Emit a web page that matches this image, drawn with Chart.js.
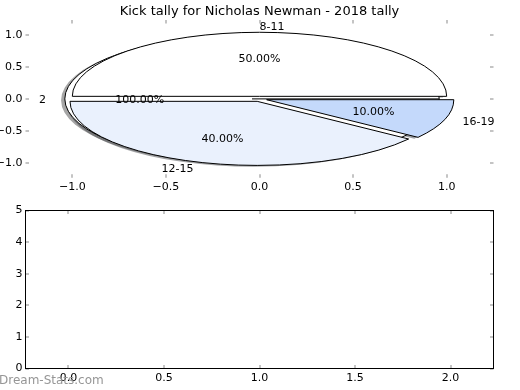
<!DOCTYPE html>
<html>
<head>
<meta charset="utf-8">
<script src="https://cdn.jsdelivr.net/npm/chart.js@4"></script>
<style>
    html, body { margin: 0; padding: 0; background: #fff; }
    #wrap { position: relative; width: 520px; height: 390px; }
    canvas { position: absolute; left: 0; }
    #pie { top: 0; }
    #bars { top: 200px; }
</style>
</head>
<body>
<div id="wrap">
    <canvas id="pie" width="520" height="200"></canvas>
    <canvas id="bars" width="520" height="190"></canvas>
</div>
<script>
// pie slices (age groups) and their share of kicks
const sliceLabels = ["8-11", "12-15", "16-19"];
const sliceValues = [50, 40, 10];
const sliceColors = ["#ffffff", "#eaf1fd", "#c4d9fb"];

// the second pie underneath, one slice only
const outerLabels = ["2"];
const outerValues = [100];
const outerColors = ["#ffffff"];

// tick labels
const pieXTicks = [-1, -0.5, 0, 0.5, 1];
const pieYTicks = [-1, -0.5, 0, 0.5, 1];
const barXTicks = [0, 0.5, 1, 1.5, 2];
const barYTicks = [0, 1, 2, 3, 4, 5];

const TITLE = "Kick tally for Nicholas Newman - 2018 tally";
const FONT = "DejaVu Sans";

const fmt = (v) => (v < 0 ? "\u2212" : "") + Math.abs(v).toFixed(1);

// short grey tick marks pointing into the axes, on all four sides
const tickMarks = {
    id: "tickMarks",
    afterDraw(chart) {
        const { ctx, chartArea: a, scales } = chart;
        const len = 3.5;
        ctx.save();
        ctx.strokeStyle = "#c4c4c4";
        ctx.lineWidth = 2;
        ctx.beginPath();
        scales.x.ticks.forEach((t) => {
            const p = Math.round(scales.x.getPixelForValue(t.value));
            ctx.moveTo(p, a.top);
            ctx.lineTo(p, a.top + len);
            ctx.moveTo(p, a.bottom);
            ctx.lineTo(p, a.bottom - len);
        });
        scales.y.ticks.forEach((t) => {
            const p = Math.round(scales.y.getPixelForValue(t.value));
            ctx.moveTo(a.left, p);
            ctx.lineTo(a.left + len, p);
            ctx.moveTo(a.right, p);
            ctx.lineTo(a.right - len, p);
        });
        ctx.stroke();
        ctx.restore();
    },
};

// black frame round the lower axes
const frame = {
    id: "frame",
    afterDraw(chart) {
        const { ctx, chartArea: a } = chart;
        ctx.save();
        ctx.strokeStyle = "#000";
        ctx.lineWidth = 1;
        ctx.strokeRect(a.left, a.top, a.right - a.left, a.bottom - a.top);
        ctx.restore();
    },
};

// pies drawn as ellipses on the x/y scales (axes are not equal-aspect)
function buildWedges(labels, values, colors, explode) {
    const total = values.reduce((s, v) => s + v, 0);
    let theta = 0;
    return values.map((v, i) => {
        const t1 = theta;
        const t2 = theta + (v / total) * 2 * Math.PI;
        theta = t2;
        const mid = (t1 + t2) / 2;
        return {
            label: labels[i],
            pct: ((v / total) * 100).toFixed(2) + "%",
            color: colors[i],
            t1,
            t2,
            mid,
            full: v === total,
            cx: explode * Math.cos(mid),
            cy: explode * Math.sin(mid),
        };
    });
}

function wedgePath(ctx, x, y, w, dx, dy) {
    const px = x.getPixelForValue(w.cx + dx);
    const py = y.getPixelForValue(w.cy + dy);
    const rx = x.getPixelForValue(w.cx + dx + 1) - px;
    const ry = py - y.getPixelForValue(w.cy + dy + 1);
    ctx.beginPath();
    if (w.full) {
        ctx.ellipse(px, py, rx, ry, 0, 0, 2 * Math.PI);
        ctx.moveTo(px, py);
        ctx.lineTo(px + rx, py);
    } else {
        ctx.moveTo(px, py);
        ctx.ellipse(px, py, rx, ry, 0, -w.t1, -w.t2, true);
        ctx.closePath();
    }
}

function shadowColor(hex) {
    const n = parseInt(hex.slice(1), 16);
    const r = Math.round(((n >> 16) & 255) * 0.3);
    const g = Math.round(((n >> 8) & 255) * 0.3);
    const b = Math.round((n & 255) * 0.3);
    return `rgba(${r},${g},${b},0.5)`;
}

const ellipsePie = {
    id: "ellipsePie",
    afterDatasetsDraw(chart, args, opts) {
        const { ctx, scales: { x, y } } = chart;
        const pies = opts.pies;
        ctx.save();
        // shadows go under every wedge
        pies.forEach((pie) =>
            pie.forEach((w) => {
                wedgePath(ctx, x, y, w, -0.02, -0.02);
                ctx.fillStyle = shadowColor(w.color);
                ctx.fill();
            }),
        );
        pies.forEach((pie) =>
            pie.forEach((w) => {
                wedgePath(ctx, x, y, w, 0, 0);
                ctx.fillStyle = w.color;
                ctx.fill();
                ctx.strokeStyle = "#000";
                ctx.lineWidth = 1;
                ctx.stroke();
            }),
        );
        ctx.fillStyle = "#000";
        ctx.font = `11px "${FONT}"`;
        ctx.textBaseline = "middle";
        // canvas "middle" sits a touch high against matplotlib's centring
        const nudge = 1;
        pies.forEach((pie) =>
            pie.forEach((w) => {
                const lx = w.cx + 1.1 * Math.cos(w.mid);
                const ly = w.cy + 1.1 * Math.sin(w.mid);
                ctx.textAlign = lx > 0 ? "left" : "right";
                ctx.fillText(w.label, x.getPixelForValue(lx), y.getPixelForValue(ly) + nudge);
                ctx.textAlign = "center";
                ctx.fillText(
                    w.pct,
                    x.getPixelForValue(w.cx + 0.6 * Math.cos(w.mid)),
                    y.getPixelForValue(w.cy + 0.6 * Math.sin(w.mid)) + nudge,
                );
            }),
        );
        ctx.restore();
    },
};

const watermark = {
    id: "watermark",
    afterDraw(chart) {
        const { ctx } = chart;
        ctx.save();
        ctx.fillStyle = "#969696";
        ctx.font = `12px "${FONT}"`;
        ctx.textAlign = "left";
        ctx.textBaseline = "alphabetic";
        ctx.fillText("Dream-Stats.com", -1, 184);
        ctx.restore();
    },
};

/**
 * @param {number[]} ticks
 * @param {number} min
 * @param {number} max
 * @param {number} size
 * @param {"x"|"y"} dir
 * @param {(v:number)=>string} label
 * @param {number} pad
 */
function axis(ticks, min, max, size, dir, label, pad) {
    return {
        type: "linear",
        min,
        max,
        offset: false,
        grid: { display: false, drawTicks: false, offset: false },
        border: { display: false },
        ticks: {
            color: "#000",
            font: { family: FONT, size: 11 },
            padding: pad,
            autoSkip: false,
            maxRotation: 0,
            callback: label,
        },
        afterBuildTicks: (s) => {
            s.ticks = ticks.map((value) => ({ value }));
        },
        afterFit: (s) => {
            if (dir === "x") s.height = size;
            else s.width = size;
        },
    };
}

Chart.defaults.animation = false;
Chart.defaults.responsive = false;
Chart.defaults.font.family = FONT;

new Chart(document.getElementById("pie"), {
    type: "scatter",
    data: { datasets: [] },
    options: {
        layout: { padding: { left: 0, right: 26.5, top: 0, bottom: 0 } },
        scales: {
            x: axis(pieXTicks, -1.25, 1.25, 22.3, "x", fmt, 3),
            y: axis(pieYTicks, -1.23, 1.23, 25.5, "y", fmt, 3),
        },
        plugins: {
            legend: { display: false },
            tooltip: { enabled: false },
            title: {
                display: true,
                fullSize: false,
                text: TITLE,
                color: "#000",
                font: { family: FONT, size: 13, weight: "normal" },
                padding: { top: 3.5, bottom: 1 },
            },
            ellipsePie: {
                pies: [
                    buildWedges(outerLabels, outerValues, outerColors, 0.04),
                    buildWedges(sliceLabels, sliceValues, sliceColors, 0.04),
                ],
            },
        },
    },
    plugins: [ellipsePie, tickMarks],
});

new Chart(document.getElementById("bars"), {
    type: "scatter",
    data: { datasets: [] },
    options: {
        layout: { padding: { left: 0, right: 26.5, top: 10.5, bottom: 0 } },
        scales: {
            x: axis(barXTicks, -0.225, 2.225, 21.5, "x", fmt, 3),
            y: axis(barYTicks, 0, 5, 25.5, "y", (v) => String(v), 3),
        },
        plugins: {
            legend: { display: false },
            tooltip: { enabled: false },
        },
    },
    plugins: [tickMarks, frame, watermark],
});
</script>
</body>
</html>
